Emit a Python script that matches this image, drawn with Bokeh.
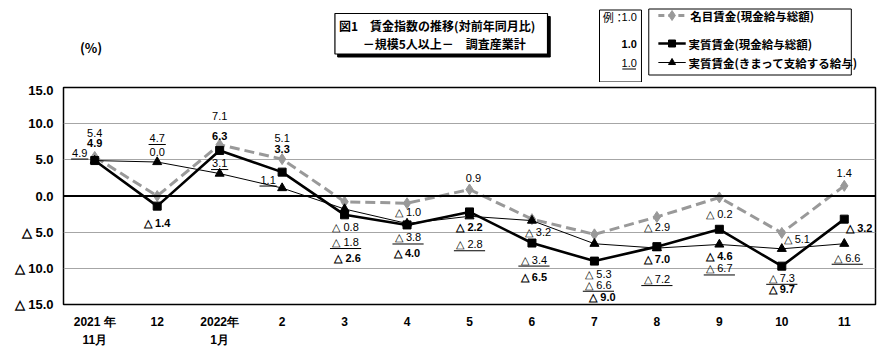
from bokeh.plotting import figure
from bokeh.models import Range1d, FixedTicker, Span, ColumnDataSource
from bokeh.layouts import column
from bokeh.embed import file_html
from bokeh.resources import INLINE
from bokeh.core.properties import value

# ---------------- data ----------------
months = ["2021 年\n11月", "12", "2022年\n1月", "2", "3", "4", "5", "6",
          "7", "8", "9", "10", "11"]
nominal_total = [5.4, 0.0, 7.1, 5.1, -0.8, -1.0, 0.9, -3.2, -5.3, -2.9, -0.2, -5.1, 1.4]
real_total = [4.9, -1.4, 6.3, 3.3, -2.6, -4.0, -2.2, -6.5, -9.0, -7.0, -4.6, -9.7, -3.2]
real_scheduled = [4.9, 4.7, 3.1, 1.1, -1.8, -3.8, -2.8, -3.4, -6.6, -7.2, -6.7, -7.3, -6.6]
y_ticks = [-15, -10, -5, 0, 5, 10, 15]

series_names = ["名目賃金(現金給与総額)", "実質賃金(現金給与総額)", "実質賃金(きまって支給する給与)"]
title_line1 = "図1　賃金指数の推移(対前年同月比)"
title_line2 = "－規模5人以上－　調査産業計"

# ---------------- label placement (pixels, +dy = downward) ----------------
nom_dx = [0, 0, 0, 0, 1, 1, 4, 6, 4, 0, 0, 15, 0]
nom_dy = [-24, -44, -28.5, -21, 25, 8.5, -11.5, 13, 40, 10, 16.5, 6, -13]
real_dx = [0, 0, 0, 0, 3, 0, 0, 2, 8, 0, 0, 0, 15]
real_dy = [-18, 17, -14, -23, 43, 28, 15, 34, 36, 12, 27, 23, 9]
sch_dx = [-15, 0, 0, -14, 1, 1, 0, 2, 4, 0, 0, 0, 3]
sch_dy = [-8, -24, -10.5, -8.5, 33, 14, 28, 39, 41, 31, 24, 29, 14]

FRAME_W, FRAME_H = 812, 217
N = len(months)
PX_X = FRAME_W / N
PX_Y = FRAME_H / 30.0

NUM_FONT = value("Liberation Sans")
JP_FONT = value("Noto Sans CJK JP")


def fmt(v):
    return "△ %.1f" % (-v) if v < 0 else "%.1f" % v


def text_w(s):
    w = 0
    for c in s:
        w += {"△": 11, " ": 3, ".": 3}.get(c, 6.1)
    return w


# ---------------- header figure ----------------
HEAD_H = 82
h = figure(width=890, height=HEAD_H, x_range=Range1d(0, 890), y_range=Range1d(HEAD_H, 0),
           x_axis_type=None, y_axis_type=None, toolbar_location=None,
           output_backend="svg", min_border=0, outline_line_color=None)
h.background_fill_color = "white"
h.border_fill_color = "white"

h.text(x=[18], y=[47], text=["(%)"], text_font=JP_FONT, text_font_style="bold",
       text_font_size="13px", text_align="left", text_baseline="middle", text_color="black")

# title box with shadow
h.quad(left=[300.5], right=[533.5], top=[16], bottom=[56.5], fill_color="black", line_color="black")
h.quad(left=[297.5], right=[530.5], top=[13], bottom=[53.5], fill_color="white",
       line_color="black", line_width=1.2)
h.text(x=[302], y=[25], text=[title_line1], text_font=JP_FONT, text_font_style="bold",
       text_font_size="12px", text_align="left", text_baseline="middle", text_color="black")
h.text(x=[328], y=[43], text=[title_line2], text_font=JP_FONT, text_font_style="bold",
       text_font_size="12px", text_align="left", text_baseline="middle", text_color="black")

# example box
h.quad(left=[587.5], right=[633.5], top=[9.5], bottom=[81.5], fill_color="white",
       line_color="black", line_width=1)
h.text(x=[591], y=[16], text=["例："], text_font=JP_FONT, text_font_size="11px",
       text_align="left", text_baseline="middle", text_color="black")
h.text(x=[620], y=[16], text=["1.0"], text_font=NUM_FONT, text_font_size="11px",
       text_align="center", text_baseline="middle", text_color="black")
h.text(x=[620], y=[43], text=["1.0"], text_font=NUM_FONT, text_font_size="11px",
       text_font_style="bold", text_align="center", text_baseline="middle", text_color="black")
h.text(x=[620], y=[62], text=["1.0"], text_font=NUM_FONT, text_font_size="11px",
       text_align="center", text_baseline="middle", text_color="black")
h.segment(x0=[612.5], y0=[68.5], x1=[627.5], y1=[68.5], line_color="black", line_width=1)

# legend box
h.quad(left=[641.5], right=[863.5], top=[8.5], bottom=[74.5], fill_color="white",
       line_color="black", line_width=1)
h.line(x=[652, 682], y=[15, 15], line_color="#999999", line_width=3, line_dash="6 4")
h.scatter(x=[667], y=[15], marker="diamond", size=10, fill_color="#999999", line_color="#999999")
h.line(x=[652, 682], y=[43, 43], line_color="black", line_width=2.5)
h.scatter(x=[667], y=[43], marker="square", size=7, fill_color="black", line_color="black")
h.line(x=[652, 682], y=[62, 62], line_color="black", line_width=1)
h.scatter(x=[667], y=[62], marker="triangle", size=7, fill_color="black", line_color="black")
h.text(x=[687, 685, 685], y=[15, 43, 62], text=series_names, text_font=JP_FONT,
       text_font_style="bold", text_font_size="11.5px", text_align="left",
       text_baseline="middle", text_color="black")

# ---------------- main chart ----------------
MAIN_H = 352 - HEAD_H
p = figure(width=890, height=MAIN_H, x_range=Range1d(-0.5, N - 0.5), y_range=Range1d(-15, 15),
           toolbar_location=None, output_backend="svg",
           min_border_left=63, min_border_right=15, min_border_top=5,
           min_border_bottom=MAIN_H - 5 - FRAME_H)
p.background_fill_color = "white"
p.border_fill_color = "white"
p.outline_line_color = "black"
p.outline_line_width = 1.5

p.xgrid.visible = False
p.ygrid.ticker = FixedTicker(ticks=[-10, -5, 5, 10])
p.ygrid.grid_line_color = "#a6a6a6"
p.ygrid.grid_line_width = 1.2

p.add_layout(Span(location=0, dimension="width", line_color="black", line_width=1.8))

xs = list(range(N))
p.xaxis.ticker = FixedTicker(ticks=xs)
p.xaxis.major_label_overrides = {i: months[i] for i in xs}
p.yaxis.ticker = FixedTicker(ticks=y_ticks)
p.yaxis.major_label_overrides = {t: fmt(t) for t in y_ticks}
for ax in (p.xaxis[0], p.yaxis[0]):
    ax.axis_line_color = None
    ax.major_tick_line_color = None
    ax.minor_tick_line_color = None
    ax.major_tick_out = 0
    ax.major_tick_in = 0
    ax.major_label_text_font = "Liberation Sans"
    ax.major_label_text_font_style = "bold"
    ax.major_label_text_color = "black"
    ax.major_label_standoff = 10
p.yaxis.major_label_text_font_size = "13px"
p.xaxis.major_label_text_font_size = "12px"
p.xaxis.major_label_text_line_height = 1.3

# series
p.line(xs, nominal_total, line_color="#999999", line_width=3, line_dash="10 5")
p.scatter(xs, nominal_total, marker="diamond", size=11, fill_color="#999999", line_color="#999999")
p.line(xs, real_scheduled, line_color="black", line_width=1)
p.scatter(xs, real_scheduled, marker="triangle", size=9, fill_color="black", line_color="black")
p.line(xs, real_total, line_color="black", line_width=2.6)
p.scatter(xs, real_total, marker="square", size=8, fill_color="black", line_color="black")


def label_source(vals, dx, dy):
    lx = [i + dx[i] / PX_X for i in xs]
    ly = [vals[i] - dy[i] / PX_Y for i in xs]
    return ColumnDataSource(dict(x=lx, y=ly, t=[fmt(v) for v in vals]))


src_nom = label_source(nominal_total, nom_dx, nom_dy)
src_real = label_source(real_total, real_dx, real_dy)
src_sch = label_source(real_scheduled, sch_dx, sch_dy)

p.text(x="x", y="y", text="t", source=src_nom, text_font=NUM_FONT, text_font_size="11px",
       text_align="center", text_baseline="middle", text_color="black")
p.text(x="x", y="y", text="t", source=src_real, text_font=NUM_FONT, text_font_size="11px",
       text_font_style="bold", text_align="center", text_baseline="middle", text_color="black")
p.text(x="x", y="y", text="t", source=src_sch, text_font=NUM_FONT, text_font_size="11px",
       text_align="center", text_baseline="middle", text_color="black")

# underline for the scheduled-earnings labels
ux0, ux1, uy = [], [], []
for i in xs:
    half = (text_w(src_sch.data["t"][i]) / 2 + 1) / PX_X
    ux0.append(src_sch.data["x"][i] - half)
    ux1.append(src_sch.data["x"][i] + half)
    uy.append(src_sch.data["y"][i] - 6.5 / PX_Y)
p.segment(x0=ux0, y0=uy, x1=ux1, y1=uy, line_color="black", line_width=1)

layout = column(h, p, spacing=0)
open("out.html", "w").write(file_html(layout, INLINE))
